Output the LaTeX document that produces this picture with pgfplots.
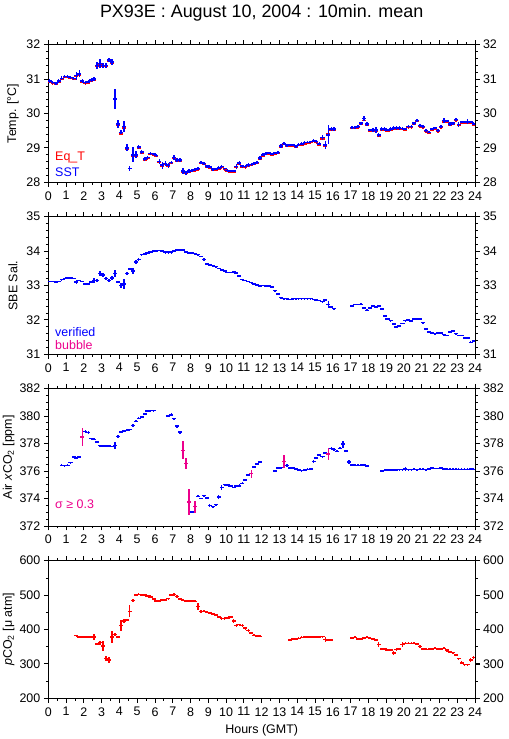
\documentclass[border=0pt]{standalone}
\usepackage{fontspec}
\setmainfont{Liberation Sans}
\usepackage{pgfplots}
\usepackage{pgfplotstable}
\pgfplotsset{compat=1.18}

\pgfplotstableread{
x y e
0.08 30.95 .06
0.25 30.90 .05
0.42 30.88 .05
0.58 30.95 .05
0.75 31.02 .06
0.92 31.08 .05
1.08 31.08 .05
1.25 31.05 .05
1.42 31.02 .05
1.58 31.10 .12
1.75 31.15 .10
1.92 30.95 .05
2.08 30.90 .05
2.25 30.92 .04
2.42 30.97 .05
2.58 31.00 .06
2.75 31.40 .10
2.92 31.45 .12
3.08 31.40 .08
3.25 31.40 .08
3.42 31.55 .06
3.58 31.50 .08
3.75 30.42 .30
3.92 29.70 .12
4.08 29.45 .06
4.25 29.62 .15
4.42 29.00 .10
4.58 28.40 .08
4.75 28.80 .22
4.92 28.80 .10
5.08 29.02 .05
5.25 28.88 .06
5.42 28.68 .05
5.58 28.72 .05
5.75 28.84 .05
5.92 28.82 .04
6.08 28.78 .05
6.25 28.60 .07
6.42 28.50 .10
6.58 28.55 .08
6.75 28.50 .07
6.92 28.58 .05
7.08 28.72 .06
7.25 28.65 .06
7.42 28.65 .05
7.58 28.33 .10
7.75 28.28 .06
7.92 28.33 .05
8.08 28.35 .04
8.25 28.37 .04
8.42 28.40 .04
8.58 28.58 .04
8.75 28.55 .04
8.92 28.47 .04
9.08 28.45 .04
9.25 28.38 .04
9.42 28.38 .03
9.58 28.42 .04
9.75 28.46 .04
9.92 28.40 .03
10.08 28.35 .04
10.25 28.33 .03
10.42 28.33 .03
10.58 28.46 .08
10.75 28.56 .06
10.92 28.47 .04
11.08 28.46 .04
11.25 28.50 .05
11.42 28.52 .05
11.58 28.55 .04
11.75 28.58 .04
11.92 28.70 .05
12.08 28.80 .05
12.25 28.84 .04
12.42 28.85 .04
12.58 28.82 .04
12.75 28.85 .04
12.92 28.87 .05
13.08 29.06 .05
13.25 29.13 .04
13.42 29.08 .04
13.58 29.08 .03
13.75 29.08 .03
13.92 29.05 .04
14.08 29.10 .04
14.25 29.12 .04
14.42 29.15 .04
14.58 29.16 .03
14.75 29.18 .03
14.92 29.22 .04
15.08 29.18 .04
15.25 29.12 .04
15.42 29.30 .08
15.58 29.08 .12
15.75 29.38 .28
15.92 29.55 .07
16.08 29.55 .07
17.08 29.60 .04
17.25 29.60 .05
17.42 29.62 .05
17.58 29.72 .04
17.75 29.85 .08
17.92 29.70 .05
18.08 29.52 .04
18.25 29.52 .05
18.42 29.52 .08
18.58 29.37 .06
18.75 29.55 .06
18.92 29.55 .05
19.08 29.52 .04
19.25 29.55 .05
19.42 29.58 .06
19.58 29.58 .06
19.75 29.58 .05
19.92 29.57 .05
20.08 29.55 .04
20.25 29.62 .05
20.42 29.62 .05
20.58 29.72 .04
20.75 29.80 .05
20.92 29.65 .04
21.08 29.62 .04
21.25 29.50 .04
21.42 29.45 .03
21.58 29.55 .04
21.75 29.58 .04
21.92 29.50 .04
22.08 29.62 .04
22.25 29.80 .08
22.42 29.78 .04
22.58 29.70 .05
22.75 29.72 .04
22.92 29.82 .04
23.08 29.68 .06
23.25 29.75 .04
23.42 29.75 .04
23.58 29.76 .07
23.75 29.75 .04
23.92 29.70 .04
}\sst

\pgfplotstableread{
x y e
0.08 30.92 .02
0.25 30.87 .02
0.42 30.86 .02
0.58 30.92 .02
0.75 30.99 .02
0.92 31.05 .02
1.08 31.05 .02
1.25 31.02 .02
1.42 30.99 .02
1.58 31.07 .02
1.75 31.12 .02
1.92 30.92 .02
2.08 30.87 .02
2.25 30.89 .02
2.42 30.94 .02
2.58 30.97 .02
2.75 31.37 .02
2.92 31.41 .02
3.08 31.37 .02
3.25 31.37 .02
3.42 31.52 .02
3.58 31.47 .02
3.75 30.40 .02
3.92 29.66 .02
4.08 29.41 .02
4.25 29.58 .02
4.42 28.97 .02
4.58 28.40 .02
4.75 28.77 .02
4.92 28.77 .02
5.08 28.99 .02
5.25 28.85 .02
5.42 28.65 .02
5.58 28.69 .02
5.75 28.81 .02
5.92 28.79 .02
6.08 28.75 .02
6.25 28.57 .02
6.42 28.47 .02
6.58 28.52 .02
6.75 28.47 .02
6.92 28.55 .02
7.08 28.69 .02
7.25 28.62 .02
7.42 28.62 .02
7.58 28.30 .02
7.75 28.25 .02
7.92 28.30 .02
8.08 28.32 .02
8.25 28.34 .02
8.42 28.37 .02
8.58 28.55 .02
8.75 28.52 .02
8.92 28.44 .02
9.08 28.42 .02
9.25 28.35 .02
9.42 28.35 .02
9.58 28.39 .02
9.75 28.43 .02
9.92 28.37 .02
10.08 28.32 .02
10.25 28.30 .02
10.42 28.30 .02
10.58 28.43 .02
10.75 28.53 .02
10.92 28.44 .02
11.08 28.43 .02
11.25 28.47 .02
11.42 28.49 .02
11.58 28.52 .02
11.75 28.55 .02
11.92 28.67 .02
12.08 28.77 .02
12.25 28.81 .02
12.42 28.82 .02
12.58 28.79 .02
12.75 28.82 .02
12.92 28.84 .02
13.08 29.03 .02
13.25 29.10 .02
13.42 29.05 .02
13.58 29.05 .02
13.75 29.05 .02
13.92 29.02 .02
14.08 29.07 .02
14.25 29.09 .02
14.42 29.12 .02
14.58 29.13 .02
14.75 29.15 .02
14.92 29.19 .02
15.08 29.15 .02
15.25 29.09 .02
15.42 29.26 .02
15.58 29.05 .02
15.75 29.40 .02
15.92 29.52 .02
16.08 29.52 .02
17.08 29.57 .02
17.25 29.57 .02
17.42 29.59 .02
17.58 29.69 .02
17.75 29.80 .02
17.92 29.67 .02
18.08 29.49 .02
18.25 29.49 .02
18.42 29.49 .02
18.58 29.35 .02
18.75 29.52 .02
18.92 29.52 .02
19.08 29.49 .02
19.25 29.52 .02
19.42 29.55 .02
19.58 29.55 .02
19.75 29.55 .02
19.92 29.54 .02
20.08 29.52 .02
20.25 29.59 .02
20.42 29.59 .02
20.58 29.69 .02
20.75 29.77 .02
20.92 29.62 .02
21.08 29.59 .02
21.25 29.47 .02
21.42 29.42 .02
21.58 29.52 .02
21.75 29.55 .02
21.92 29.47 .02
22.08 29.59 .02
22.25 29.76 .02
22.42 29.75 .02
22.58 29.67 .02
22.75 29.69 .02
22.92 29.79 .02
23.08 29.65 .02
23.25 29.72 .02
23.42 29.72 .02
23.58 29.73 .02
23.75 29.72 .02
23.92 29.67 .02
}\eqt

\pgfplotstableread{
x y e
0.08 33.12 .02
0.25 33.12 .02
0.42 33.10 .02
0.58 33.12 .02
0.75 33.17 .02
0.92 33.20 .02
1.08 33.22 .02
1.25 33.22 .02
1.42 33.21 .02
1.58 33.10 .07
1.75 33.15 .02
1.92 33.12 .02
2.08 33.05 .02
2.25 33.05 .02
2.42 33.10 .02
2.58 33.15 .07
2.75 33.15 .04
2.92 33.35 .07
3.08 33.30 .05
3.25 33.20 .04
3.42 33.15 .04
3.58 33.22 .05
3.75 33.35 .10
3.92 33.10 .04
4.08 33.00 .07
4.25 33.05 .15
4.42 33.35 .05
4.58 33.48 .04
4.75 33.42 .08
4.92 33.68 .05
5.08 33.75 .05
5.25 33.90 .03
5.42 33.92 .03
5.58 33.95 .02
5.75 33.97 .02
5.92 34.00 .02
6.08 34.00 .02
6.25 34.02 .02
6.42 34.00 .02
6.58 33.97 .04
6.75 33.97 .04
6.92 33.97 .04
7.08 34.00 .02
7.25 34.03 .02
7.42 34.03 .04
7.58 34.03 .02
7.75 33.97 .02
7.92 33.95 .02
8.08 33.95 .02
8.25 33.93 .02
8.42 33.90 .02
8.58 33.85 .02
8.75 33.75 .04
8.92 33.62 .03
9.08 33.60 .02
9.25 33.58 .02
9.42 33.55 .02
9.58 33.50 .02
9.75 33.45 .02
9.92 33.42 .02
10.08 33.38 .02
10.25 33.38 .02
10.42 33.40 .02
10.58 33.37 .02
10.75 33.28 .03
10.92 33.17 .02
11.08 33.15 .02
11.25 33.12 .02
11.42 33.08 .02
11.58 33.05 .02
11.75 33.02 .02
11.92 32.98 .02
12.08 33.00 .02
12.25 32.98 .02
12.42 32.98 .02
12.58 32.95 .02
12.75 32.85 .03
12.92 32.75 .04
13.08 32.65 .02
13.25 32.62 .02
13.42 32.62 .02
13.58 32.60 .02
13.75 32.62 .02
13.92 32.62 .02
14.08 32.62 .02
14.25 32.62 .02
14.42 32.62 .02
14.58 32.62 .02
14.75 32.62 .02
14.92 32.60 .02
15.08 32.58 .02
15.25 32.57 .02
15.42 32.53 .03
15.58 32.58 .04
15.75 32.45 .10
15.92 32.38 .03
16.08 32.33 .02
17.08 32.40 .02
17.25 32.45 .02
17.42 32.45 .02
17.58 32.45 .03
17.75 32.35 .03
17.92 32.28 .03
18.08 32.35 .02
18.25 32.40 .02
18.42 32.38 .02
18.58 32.40 .02
18.75 32.32 .04
18.92 32.12 .03
19.08 32.03 .02
19.25 31.98 .02
19.42 31.88 .03
19.58 31.80 .03
19.75 31.82 .02
19.92 31.90 .02
20.08 31.98 .02
20.25 32.00 .02
20.42 31.97 .02
20.58 32.02 .02
20.75 32.02 .02
20.92 32.02 .02
21.08 31.92 .03
21.25 31.73 .02
21.42 31.65 .02
21.58 31.62 .02
21.75 31.60 .02
21.92 31.62 .02
22.08 31.62 .03
22.25 31.57 .03
22.42 31.55 .02
22.58 31.65 .02
22.75 31.67 .02
22.92 31.60 .02
23.08 31.55 .02
23.25 31.55 .02
23.42 31.48 .02
23.58 31.48 .02
23.75 31.35 .03
23.92 31.38 .02
}\sal

\pgfplotstableread{
x y e
0.75 376.40 .07
0.92 376.38 .07
1.08 376.40 .07
1.25 376.60 .07
1.42 377.00 .07
1.58 376.92 .07
1.75 377.00 .07
2.08 378.85 .10
2.25 378.80 .12
2.42 378.35 .07
2.58 378.30 .07
2.75 378.10 .07
2.92 377.85 .07
3.08 377.82 .07
3.25 377.82 .07
3.42 377.82 .07
3.58 377.78 .07
3.75 377.85 .25
3.92 378.52 .12
4.08 378.82 .07
4.25 378.90 .07
4.42 378.95 .07
4.58 379.00 .07
4.75 379.30 .12
4.92 379.60 .07
5.08 379.82 .07
5.25 379.92 .07
5.42 380.15 .07
5.58 380.35 .07
5.75 380.38 .07
5.92 380.38 .07
6.75 380.00 .07
6.92 380.08 .12
7.08 379.80 .07
7.25 379.25 .12
7.42 378.82 .12
8.08 373.00 .07
8.42 374.15 .07
8.58 374.00 .07
8.75 374.20 .07
8.92 374.05 .07
9.08 373.48 .12
9.25 373.40 .07
9.42 373.55 .07
9.58 374.10 .12
9.75 374.80 .15
9.92 375.00 .07
10.08 374.98 .07
10.25 374.92 .07
10.42 374.80 .07
10.58 374.90 .07
10.75 374.92 .10
10.92 375.10 .07
11.08 375.35 .10
11.25 375.70 .07
11.58 376.30 .07
11.75 376.50 .07
11.92 376.65 .07
12.75 376.00 .10
12.92 376.20 .07
13.08 376.25 .07
13.42 376.40 .10
13.58 376.20 .07
13.75 376.20 .07
13.92 376.15 .07
14.08 376.08 .07
14.25 376.02 .07
14.42 376.08 .07
14.58 376.12 .07
14.75 376.15 .07
14.92 376.70 .12
15.08 376.95 .07
15.25 377.15 .07
15.42 377.05 .07
15.58 377.30 .07
15.92 377.65 .12
16.08 377.55 .10
16.25 377.42 .07
16.42 377.65 .07
16.58 377.95 .25
16.75 377.45 .07
16.92 376.65 .12
17.08 376.42 .07
17.25 376.40 .07
17.42 376.40 .07
17.58 376.40 .07
17.75 376.45 .07
17.92 376.35 .07
18.75 376.00 .07
18.92 376.05 .07
19.08 376.08 .07
19.25 376.08 .07
19.42 376.05 .07
19.58 376.08 .07
19.75 376.10 .07
19.92 376.10 .07
20.08 376.15 .12
20.25 376.10 .07
20.42 376.10 .07
20.58 376.12 .07
20.75 376.10 .07
20.92 376.12 .07
21.08 376.12 .07
21.25 376.10 .07
21.42 376.15 .07
21.58 376.20 .07
21.75 376.18 .07
21.92 376.18 .07
22.08 376.20 .07
22.25 376.15 .07
22.42 376.12 .07
22.58 376.12 .07
22.75 376.12 .07
22.92 376.12 .07
23.08 376.12 .07
23.25 376.12 .07
23.42 376.12 .07
23.58 376.12 .07
23.75 376.15 .07
23.92 376.12 .07
}\aircoblue

\pgfplotstableread{
x y e
1.92 378.45 .65
7.58 377.50 .65
7.75 376.55 .40
7.92 373.75 .95
8.25 373.40 .45
11.42 375.80 .30
13.25 376.70 .45
15.75 377.25 .42
}\aircomag

\pgfplotstableread{
x y e
1.58 382 3
1.75 378 3
1.92 378 3
2.08 378 3
2.25 378 3
2.42 378 3
2.58 378 8
2.75 358 3
2.92 362 6
3.08 352 15
3.25 315 8
3.42 312 8
3.58 378 18
3.75 385 5
3.92 378 3
4.08 412 15
4.25 425 5
4.42 428 3
4.58 453 18
4.75 485 5
4.92 500 4
5.08 502 3
5.25 500 3
5.42 500 3
5.58 498 3
5.75 495 4
5.92 488 3
6.08 483 3
6.25 483 3
6.42 486 3
6.58 486 3
6.75 490 3
6.92 500 4
7.08 502 4
7.25 496 3
7.42 488 3
7.58 485 3
7.75 483 3
7.92 483 3
8.08 483 3
8.25 482 3
8.42 467 10
8.58 453 4
8.75 453 3
8.92 450 3
9.08 448 3
9.25 445 3
9.42 442 3
9.58 436 3
9.75 432 3
9.92 432 3
10.08 434 3
10.25 436 4
10.42 425 5
10.58 412 4
10.75 414 3
10.92 412 4
11.08 404 4
11.25 397 4
11.42 390 4
11.58 383 3
11.75 381 3
11.92 380 3
13.58 370 3
13.75 372 3
13.92 373 3
14.08 374 3
14.25 377 3
14.42 378 3
14.58 378 3
14.75 378 3
14.92 378 3
15.08 378 3
15.25 378 3
15.42 379 3
15.58 371 6
15.75 370 3
15.92 370 3
17.08 375 3
17.25 377 3
17.42 373 3
17.58 372 3
17.75 375 3
17.92 377 3
18.08 374 3
18.25 372 3
18.42 370 3
18.58 357 8
18.75 343 4
18.92 343 3
19.08 340 3
19.25 340 3
19.42 332 6
19.58 342 4
19.75 343 3
19.92 356 8
20.08 360 3
20.25 360 3
20.42 360 3
20.58 360 3
20.75 358 3
20.92 350 4
21.08 344 3
21.25 342 3
21.42 342 3
21.58 344 3
21.75 345 3
21.92 344 3
22.08 344 3
22.25 345 3
22.42 340 4
22.58 334 3
22.75 333 3
22.92 326 4
23.08 315 3
23.25 303 4
23.42 298 3
23.58 298 3
23.75 312 6
23.92 318 4
}\pco

\pgfplotsset{
  panel/.style={
    scale only axis, width=426.7bp, height=137.6bp,
    anchor=south west,
    xmin=0, xmax=24, xtick={0,1,...,24}, minor x tick num=1,
    tick align=outside, major tick length=4.5bp, minor tick length=2.5bp,
    tick style={black, line width=0.8bp},
    axis line style={line width=0.9bp},
    ticklabel style={font=\fontsize{12.5}{12.5}\selectfont},
    /pgf/number format/assume math mode=true,
    /pgf/number format/1000 sep={},
    xticklabel style={yshift=-1bp},
    every axis y label/.style={at={(axis description cs:-0.083,0.5)}, rotate=90, anchor=center, font=\fontsize{12.5}{12.5}\selectfont},
    clip=false,
  },
  rpanel/.style={
    scale only axis, width=426.7bp, height=137.6bp,
    anchor=south west,
    xmin=0, xmax=24, hide x axis,
    axis y line*=right,
    tick align=outside, major tick length=4.5bp, minor tick length=2.5bp,
    tick style={black, line width=0.8bp},
    axis line style={line width=0.9bp},
    ticklabel style={font=\fontsize{12.5}{12.5}\selectfont},
    /pgf/number format/assume math mode=true,
    /pgf/number format/1000 sep={},
  },
  ebar/.style={color=#1, only marks, mark=*, mark size=0pt,
    mark options={draw=none, fill=none},
    error bars/.cd, x dir=both, x fixed=0.115, y dir=both, y explicit,
    error mark=none, error bar style={draw=#1, line width=1.5bp, solid}},
}

\begin{document}
\begin{tikzpicture}
\path[use as bounding box] (0,0) rectangle (509bp,739bp);

\node[font=\fontsize{18}{18}\selectfont] at (261.7bp,726.5bp) {PX93E : August 10, 2004 : 10min. mean};

% Panel 1
\begin{axis}[panel, at={(48.3bp,556.7bp)}, ymin=28, ymax=32, ytick distance=1, minor y tick num=4,
  ylabel={Temp. [°C]}]
\addplot[ebar=red] table[x=x,y=y,y error=e] {\eqt};
\addplot[ebar=blue] table[x=x,y=y,y error=e] {\sst};
\node[anchor=west, text=red, font=\fontsize{12.5}{12.5}\selectfont] at (axis description cs:0.008,0.177) {Eq\_T};
\node[anchor=west, text=blue, font=\fontsize{12.5}{12.5}\selectfont] at (axis description cs:0.008,0.07) {SST};
\end{axis}
\begin{axis}[rpanel, at={(48.3bp,556.7bp)}, ymin=28, ymax=32, ytick distance=1, minor y tick num=4]
\end{axis}

% Panel 2
\begin{axis}[panel, at={(48.3bp,384.7bp)}, ymin=31, ymax=35, ytick distance=1, minor y tick num=4,
  ylabel={SBE Sal.}]
\addplot[ebar=blue] table[x=x,y=y,y error=e] {\sal};
\node[anchor=west, text=blue, font=\fontsize{12.5}{12.5}\selectfont] at (axis description cs:0.008,0.164) {verified};
\node[anchor=west, text=magenta, font=\fontsize{12.5}{12.5}\selectfont] at (axis description cs:0.008,0.068) {bubble};
\end{axis}
\begin{axis}[rpanel, at={(48.3bp,384.7bp)}, ymin=31, ymax=35, ytick distance=1, minor y tick num=4]
\end{axis}

% Panel 3
\begin{axis}[panel, at={(48.3bp,213bp)}, ymin=372, ymax=382, ytick distance=2, minor y tick num=3,
  ylabel={Air \textit{x}CO\textsubscript{2} [ppm]},
  every axis y label/.append style={at={(axis description cs:-0.093,0.5)}}]
\addplot[ebar=blue] table[x=x,y=y,y error=e] {\aircoblue};
\addplot[ebar=magenta] table[x=x,y=y,y error=e] {\aircomag};
\node[anchor=west, text=magenta, font=\fontsize{12.5}{12.5}\selectfont] at (axis description cs:0.008,0.16) {σ ≥ 0.3};
\end{axis}
\begin{axis}[rpanel, at={(48.3bp,213bp)}, ymin=372, ymax=382, ytick distance=2, minor y tick num=3]
\end{axis}

% Panel 4
\begin{axis}[panel, at={(48.3bp,40.7bp)}, ymin=200, ymax=600, ytick distance=100, minor y tick num=1,
  ylabel={\textit{p}CO\textsubscript{2} [μ atm]},
  every axis y label/.append style={at={(axis description cs:-0.093,0.5)}}]
\addplot[ebar=red] table[x=x,y=y,y error=e] {\pco};
\end{axis}
\begin{axis}[rpanel, at={(48.3bp,40.7bp)}, ymin=200, ymax=600, ytick distance=100, minor y tick num=1]
\end{axis}

\node[font=\fontsize{12.5}{12.5}\selectfont] at (261.7bp,9bp) {Hours (GMT)};
\end{tikzpicture}
\end{document}
